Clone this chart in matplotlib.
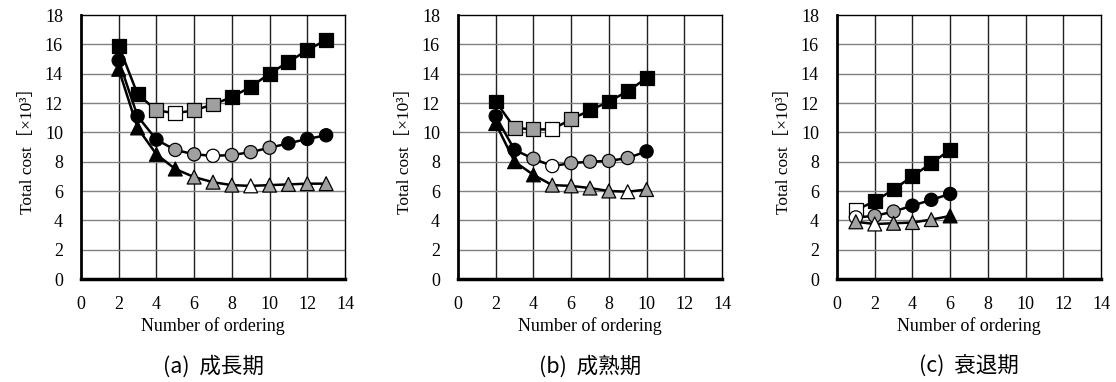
import matplotlib.pyplot as plt

# 共通の色
K = 'black'
G = '#a0a0a0'
W = 'white'

# (a) 成長期
a_x = list(range(2, 14))
a_sq = [15.9, 12.6, 11.5, 11.3, 11.5, 11.9, 12.4, 13.1, 14.0, 14.8, 15.6, 16.3]
a_sq_c = [K, K, G, W, G, G, K, K, K, K, K, K]
a_ci = [14.9, 11.1, 9.5, 8.8, 8.5, 8.4, 8.45, 8.65, 8.95, 9.25, 9.55, 9.8]
a_ci_c = [K, K, K, G, G, W, G, G, G, K, K, K]
a_tr = [14.3, 10.3, 8.5, 7.5, 6.95, 6.6, 6.4, 6.35, 6.4, 6.45, 6.5, 6.5]
a_tr_c = [K, K, K, K, G, G, G, W, G, G, G, G]

# (b) 成熟期
b_x = list(range(2, 11))
b_sq = [12.1, 10.3, 10.2, 10.2, 10.9, 11.5, 12.1, 12.8, 13.7]
b_sq_c = [K, G, G, W, G, K, K, K, K]
b_ci = [11.1, 8.8, 8.2, 7.7, 7.9, 8.0, 8.05, 8.25, 8.7]
b_ci_c = [K, K, G, W, G, G, G, G, K]
b_tr = [10.6, 8.0, 7.1, 6.4, 6.35, 6.2, 6.0, 5.95, 6.1]
b_tr_c = [K, K, K, G, G, G, G, W, G]

# (c) 衰退期
c_x = list(range(1, 7))
c_sq = [4.7, 5.3, 6.1, 7.0, 7.9, 8.8]
c_sq_c = [W, K, K, K, K, K]
c_ci = [4.2, 4.3, 4.6, 5.0, 5.4, 5.8]
c_ci_c = [W, G, G, K, K, K]
c_tr = [3.9, 3.75, 3.8, 3.85, 4.05, 4.3]
c_tr_c = [G, W, G, G, G, K]

panels = [
    ('(a)  成長期', a_x, [(a_sq, a_sq_c, 's'), (a_ci, a_ci_c, 'o'), (a_tr, a_tr_c, '^')]),
    ('(b)  成熟期', b_x, [(b_sq, b_sq_c, 's'), (b_ci, b_ci_c, 'o'), (b_tr, b_tr_c, '^')]),
    ('(c)  衰退期', c_x, [(c_sq, c_sq_c, 's'), (c_ci, c_ci_c, 'o'), (c_tr, c_tr_c, '^')]),
]

serif = ['Liberation Serif', 'Noto Sans CJK JP']
fig = plt.figure(figsize=(11.16, 3.82), dpi=100)
lefts = [81, 458, 837]
sizes = {'s': 100, 'o': 90, '^': 100}

for (cap, xs, series), lp in zip(panels, lefts):
    ax = fig.add_axes([lp / 1116, 103 / 382, 264 / 1116, 264 / 382])
    ax.set_xlim(0, 14)
    ax.set_ylim(0, 18)
    ax.set_xticks(range(0, 15, 2))
    ax.set_yticks(range(0, 19, 2))
    for xv in range(2, 14, 2):
        ax.axvline(xv, color='#202020', lw=1.0, zorder=1)
    for yv in range(2, 18, 2):
        ax.axhline(yv, color='#808080', lw=1.0, zorder=1)
    for ys, cols, m in series:
        ax.plot(xs, ys, color='black', lw=1.8, zorder=2)
        ax.scatter(xs, ys, s=sizes[m], marker=m, c=cols,
                   edgecolors='black', linewidths=0.9, zorder=3)
    ax.tick_params(length=0, labelsize=13)
    ax.tick_params(axis='x', pad=12)
    ax.tick_params(axis='y', pad=13)
    for lab in ax.get_xticklabels() + ax.get_yticklabels():
        lab.set_family(serif)
    for s in ['top', 'right']:
        ax.spines[s].set_linewidth(1.0)
    ax.spines['left'].set_linewidth(2.0)
    ax.spines['bottom'].set_linewidth(2.5)
    ax.set_xlabel('Number of ordering', family=serif, fontsize=13, labelpad=3)
    ax.set_ylabel('Total cost［×10³］', family=serif, fontsize=12.5, labelpad=6)
    ax.text(0.5, -0.33, cap, transform=ax.transAxes, ha='center', va='center',
            family=['Noto Sans CJK JP', 'DejaVu Sans'], fontsize=15.5)

fig.savefig('out.png', dpi=100)
